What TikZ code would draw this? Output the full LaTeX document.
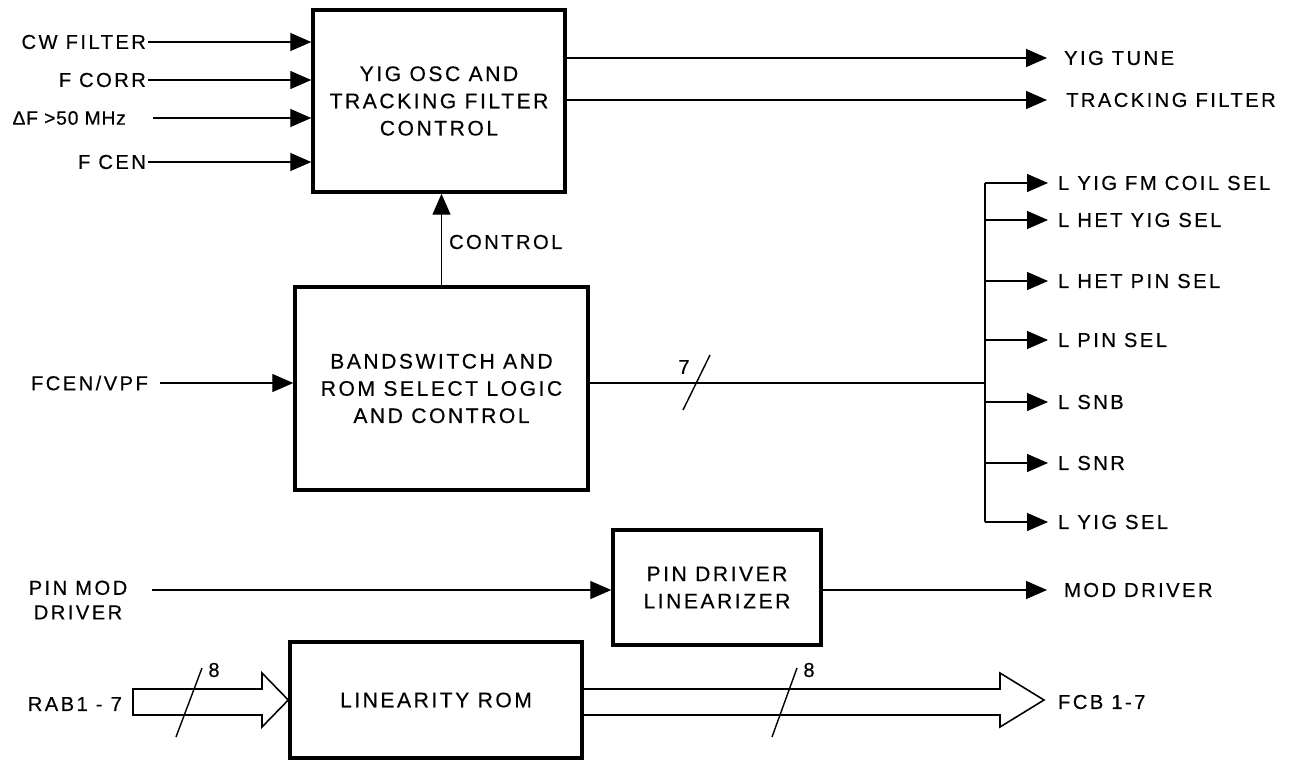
\documentclass[tikz,border=0pt]{standalone}
\usepackage{fontspec}
\setmainfont{Liberation Sans}[LetterSpace=12, FakeBold=0.4]
\usetikzlibrary{arrows.meta, positioning, calc}
\tikzset{
    block/.style={rectangle, draw, line width=2pt, align=center, font=\fontsize{12}{15.5}\selectfont},
    sig/.style={line width=0.8pt, -{Triangle[length=0.42cm, width=0.36cm]}},
    wire/.style={line width=0.8pt},
    bus/.style={line width=0.9pt, line join=miter},
    lbl/.style={inner sep=1pt, font=\fontsize{11.5}{14}\selectfont}
}

\begin{document}
\begin{tikzpicture}[x=0.02cm, y=-0.02cm]
        \useasboundingbox (0,0) rectangle (1309,761);
        % blocks
        \node[block, minimum width=5.04cm, minimum height=3.64cm] (yig) at (439,101) {YIG OSC AND\\TRACKING FILTER\\CONTROL};
        \node[block, minimum width=5.86cm, minimum height=4.06cm] (band) at (441.5,388.5) {BANDSWITCH AND\\ROM SELECT LOGIC\\AND CONTROL};
        \node[block, minimum width=4.16cm, minimum height=2.3cm] (pin) at (717,587.5) {PIN DRIVER\\LINEARIZER};
        \node[block, minimum width=5.84cm, minimum height=2.32cm] (lin) at (436,700) {LINEARITY ROM};
        % inputs of the YIG block
        \node[lbl, anchor=east] (cw) at (148,42) {CW FILTER};
        \node[lbl, anchor=east] (fcorr) at (148,80) {F CORR};
        \node[lbl, anchor=east, font=\fontsize{11}{14}\selectfont\addfontfeature{LetterSpace=4}] (df) at (128,118) {ΔF >50 MHz};
        \node[lbl, anchor=east] (fc) at (148,162) {F CEN};
        \draw[sig] (cw.east) -- (cw.east -| yig.west);
        \draw[sig] (fcorr.east) -- (fcorr.east -| yig.west);
        \draw[sig] ([xshift=0.5cm]df.east) -- (df.east -| yig.west);
        \draw[sig] (fc.east) -- (fc.east -| yig.west);
        % outputs of the YIG block
        \node[lbl, anchor=west] (tune) at (1062,58) {YIG TUNE};
        \node[lbl, anchor=west] (track) at (1064,100) {TRACKING FILTER};
        \draw[sig] (yig.east |- tune.west) -- ([xshift=-0.3cm]tune.west);
        \draw[sig] (yig.east |- track.west) -- ([xshift=-0.34cm]track.west);
        % control
        \draw[sig] (band.north) -- (band.north |- yig.south);
        \node[lbl, anchor=west] (ctl) at (447,242) {CONTROL};
        \node[lbl, anchor=east] (fcen) at (150,383) {FCEN/VPF};
        \draw[sig] ([xshift=0.2cm]fcen.east) -- (fcen.east -| band.west);
        % select lines
        \coordinate (split) at (985,383);
        \draw[wire] (band.east |- split) -- (split);
        \draw[wire] (683,410) -- (710,355);
        \node[lbl] (seven) at (684,367) {7};
        \foreach \yy/\txt [count=\i] in {183/L YIG FM COIL SEL, 220/L HET YIG SEL, 281/L HET PIN SEL, 340/L PIN SEL, 402/L SNB, 463/L SNR, 522/L YIG SEL} {
            \node[lbl, anchor=west] (sel\i) at (1056,\yy) {\txt};
            \draw[sig] (split |- sel\i.west) -- ([xshift=-0.16cm]sel\i.west);
        }
        \draw[wire] (split |- sel1.west) -- (split |- sel7.west);
        % pin driver
        \node[lbl, align=center] (pinmod) at (78,600) {PIN MOD\\DRIVER};
        \coordinate (pinin) at (152,590);
        \draw[sig] (pinin) -- (pinin -| pin.west);
        \node[lbl, anchor=west] (moddrv) at (1062,590) {MOD DRIVER};
        \draw[sig] (pin.east |- moddrv.west) -- ([xshift=-0.3cm]moddrv.west);
        % linearity rom buses
        \node[lbl, anchor=east] (rab) at (124,704) {RAB1 - 7};
        \node[lbl, anchor=west] (fcb) at (1056,702) {FCB 1-7};
        \coordinate (rabtip) at (lin.west |- 0,700);
        \coordinate (fcbtip) at (1044,700);
        \draw[bus] (133,689) -- (262,689) -- (262,673) -- (rabtip) -- (262,727) -- (262,715) -- (133,715) -- cycle;
        \draw[bus] (lin.east |- 0,689) -- (1000,689) -- (1000,673) -- (fcbtip) -- (1000,727) -- (1000,715) -- (lin.east |- 0,715);
        \draw[wire] (176,737) -- (202,668);
        \node[lbl] (eightin) at (214,670) {8};
        \draw[wire] (772,737) -- (797,668);
        \node[lbl] (eightout) at (809,670) {8};
\end{tikzpicture}
\end{document}
